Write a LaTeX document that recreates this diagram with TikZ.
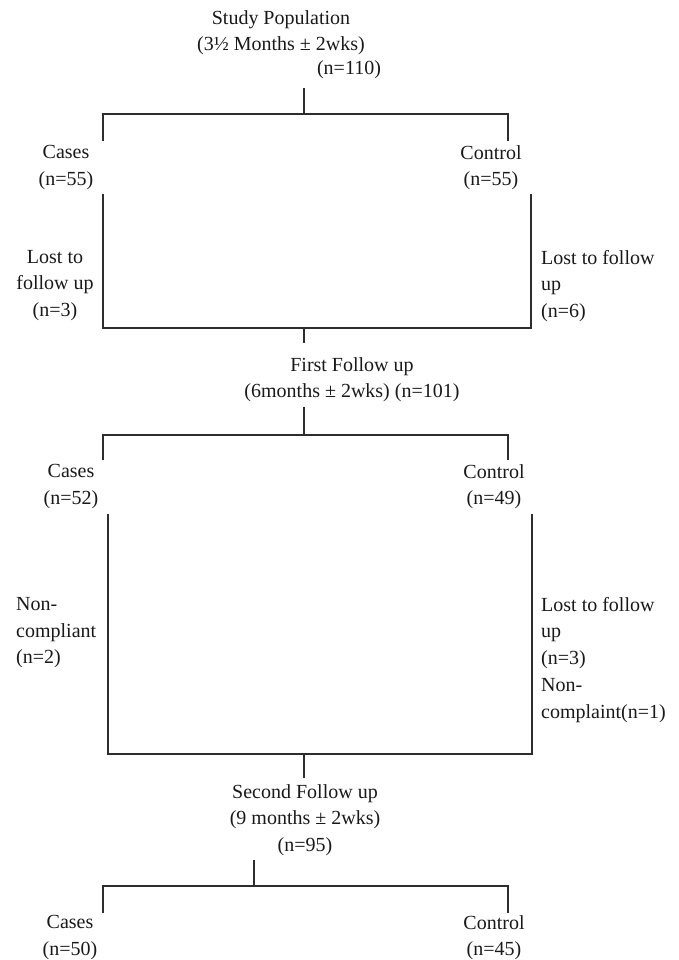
\documentclass[tikz,border=0pt]{standalone}
\usepackage{fontspec}
\setmainfont{Liberation Serif}
\usepackage{xcolor}
\definecolor{LineGray}{RGB}{45,45,45}
\definecolor{TextGray}{RGB}{25,25,25}
\usetikzlibrary{positioning,calc}
\tikzset{
  % Label text, centred lines
  lbl/.style={
    inner sep=0pt,
    align=center,
    text=TextGray,
    font=\fontsize{20}{26.7}\selectfont
  },
  % Label text, left aligned
  lbll/.style={lbl, align=left},
  % Connector line
  link/.style={
    draw=LineGray,
    line width=1.5pt
  }
}

\begin{document}
\begin{tikzpicture}[x=1pt,y=-1pt]
  \useasboundingbox (0,0) rectangle (679,960);

  % Study population
  \node[lbl, anchor=north] (pop)  at (281,10) {Study Population\\(3½ Months ± 2wks)};
  \node[lbl]               (popn) at (349,70) {(n=110)};

  \coordinate (pop-s) at (304,88);
  \coordinate (pop-j) at (304,114);
  \coordinate (br1-l) at (103,114);
  \coordinate (br1-r) at (508,114);
  \coordinate (c1-l)  at (103,141);
  \coordinate (c1-r)  at (508,141);
  \draw[link] (pop-s) -- (pop-j);
  \draw[link] (c1-l) -- (br1-l) -- (br1-r) -- (c1-r);

  \node[lbl, anchor=north] (cases1) at (66,145)  {Cases\\(n=55)};
  \node[lbl, anchor=north] (ctrl1)  at (491,145) {Control\\(n=55)};

  % First interval
  \coordinate (box1-tl) at (103,194);
  \coordinate (box1-bl) at (103,328);
  \coordinate (box1-br) at (531,328);
  \coordinate (box1-tr) at (531,194);
  \coordinate (box1-m)  at (304,328);
  \coordinate (ff-s)    at (304,343);
  \draw[link] (box1-tl) -- (box1-bl) -- (box1-br) -- (box1-tr);
  \draw[link] (box1-m) -- (ff-s);

  \node[lbl, anchor=north]       (lost1l) at (55,250)  {Lost to\\follow up\\(n=3)};
  \node[lbll, anchor=north west] (lost1r) at (541,250) {Lost to follow\\up\\(n=6)};

  % First follow up
  \node[lbl, anchor=north] (ff) at (352,357) {First Follow up\\(6months ± 2wks) (n=101)};

  \coordinate (ff-b)  at (304,407);
  \coordinate (ff-j)  at (304,435);
  \coordinate (br2-l) at (103,435);
  \coordinate (br2-r) at (508,435);
  \coordinate (c2-l)  at (103,460);
  \coordinate (c2-r)  at (508,460);
  \draw[link] (ff-b) -- (ff-j);
  \draw[link] (c2-l) -- (br2-l) -- (br2-r) -- (c2-r);

  \node[lbl, anchor=north] (cases2) at (71,464)  {Cases\\(n=52)};
  \node[lbl, anchor=north] (ctrl2)  at (494,464) {Control\\(n=49)};

  % Second interval
  \coordinate (box2-tl) at (108,514);
  \coordinate (box2-bl) at (108,754);
  \coordinate (box2-br) at (532,754);
  \coordinate (box2-tr) at (532,514);
  \coordinate (box2-m)  at (304,754);
  \coordinate (sf-s)    at (304,778);
  \draw[link] (box2-tl) -- (box2-bl) -- (box2-br) -- (box2-tr);
  \draw[link] (box2-m) -- (sf-s);

  \node[lbll, anchor=north west] (nc2l)   at (16,597)  {Non-\\compliant\\(n=2)};
  \node[lbll, anchor=north west] (lost2r) at (541,597) {Lost to follow\\up\\(n=3)\\Non-\\complaint(n=1)};

  % Second follow up
  \node[lbl, anchor=north] (sf) at (305,784) {Second Follow up\\(9 months ± 2wks)\\(n=95)};

  \coordinate (sf-b)  at (254,860);
  \coordinate (sf-j)  at (254,886);
  \coordinate (br3-l) at (103,886);
  \coordinate (br3-r) at (508,886);
  \coordinate (c3-l)  at (103,913);
  \coordinate (c3-r)  at (508,913);
  \draw[link] (sf-b) -- (sf-j);
  \draw[link] (c3-l) -- (br3-l) -- (br3-r) -- (c3-r);

  \node[lbl, anchor=north] (cases3) at (70,915)  {Cases\\(n=50)};
  \node[lbl, anchor=north] (ctrl3)  at (494,915) {Control\\(n=45)};
\end{tikzpicture}
\end{document}
